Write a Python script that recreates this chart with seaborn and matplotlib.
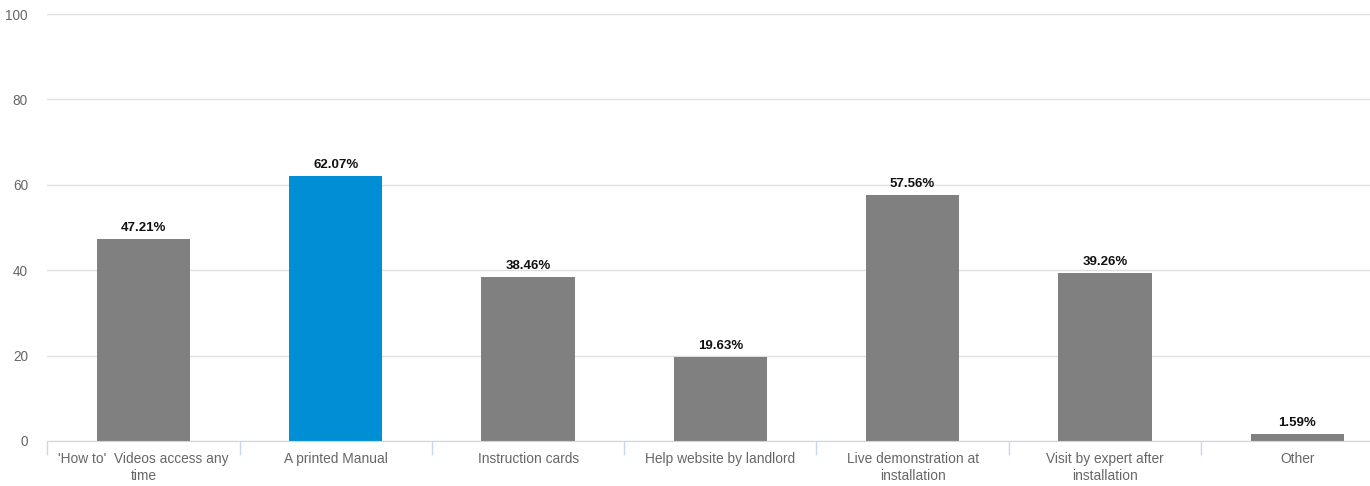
import matplotlib
matplotlib.use("Agg")
import matplotlib.pyplot as plt
import seaborn as sns
import pandas as pd

categories = ["'How to'  Videos access any\ntime", "A printed Manual", "Instruction cards",
              "Help website by landlord", "Live demonstration at\ninstallation",
              "Visit by expert after\ninstallation", "Other"]
values = [47.21, 62.07, 38.46, 19.63, 57.56, 39.26, 1.59]
bar_colors = ["#808080", "#008fd5", "#808080", "#808080", "#808080", "#808080", "#808080"]

sns.set_style("white")
plt.rcParams["font.family"] = ["Liberation Sans", "DejaVu Sans"]

df = pd.DataFrame({"cat": categories, "val": values})

fig = plt.figure(figsize=(13.7, 4.86), dpi=100)
# the chart runs a little past the right edge of the picture
ax = fig.add_axes([0.0346, 0.0926, 0.9824, 0.8785])
sns.barplot(data=df, x="cat", y="val", hue="cat", palette=bar_colors, legend=False,
            width=0.485, saturation=1, linewidth=0, ax=ax)

for i, v in enumerate(values):
    ax.text(i, v + 1.2, f"{v:.2f}%", ha="center", va="bottom", fontsize=9.5,
            fontweight="bold", color="#111111")

ax.set_ylim(0, 100)
ax.set_xlim(-0.5, len(values) - 0.5)
ax.set_yticks(range(0, 101, 20))
ax.yaxis.grid(True, color="#e0e0e0", linewidth=1)
ax.set_axisbelow(True)
for s in ["top", "right", "left"]:
    ax.spines[s].set_visible(False)
ax.spines["bottom"].set_color("#ccd6eb")

# category boundaries as major ticks, labels on minor ticks
ax.set_xticks([i - 0.5 for i in range(len(values) + 1)])
ax.set_xticklabels([])
ax.set_xticks(range(len(values)), minor=True)
ax.set_xticklabels(categories, minor=True, fontsize=9.9, color="#666666", linespacing=1.25)
ax.tick_params(axis="x", which="major", bottom=True, length=10, width=1,
               color="#ccd6eb", direction="out")
ax.tick_params(axis="x", which="minor", bottom=True, length=0, pad=8)
ax.tick_params(axis="y", length=0, labelsize=9.8, labelcolor="#666666", pad=14)
ax.set_xlabel("")
ax.set_ylabel("")

fig.savefig("out.png", dpi=100)
